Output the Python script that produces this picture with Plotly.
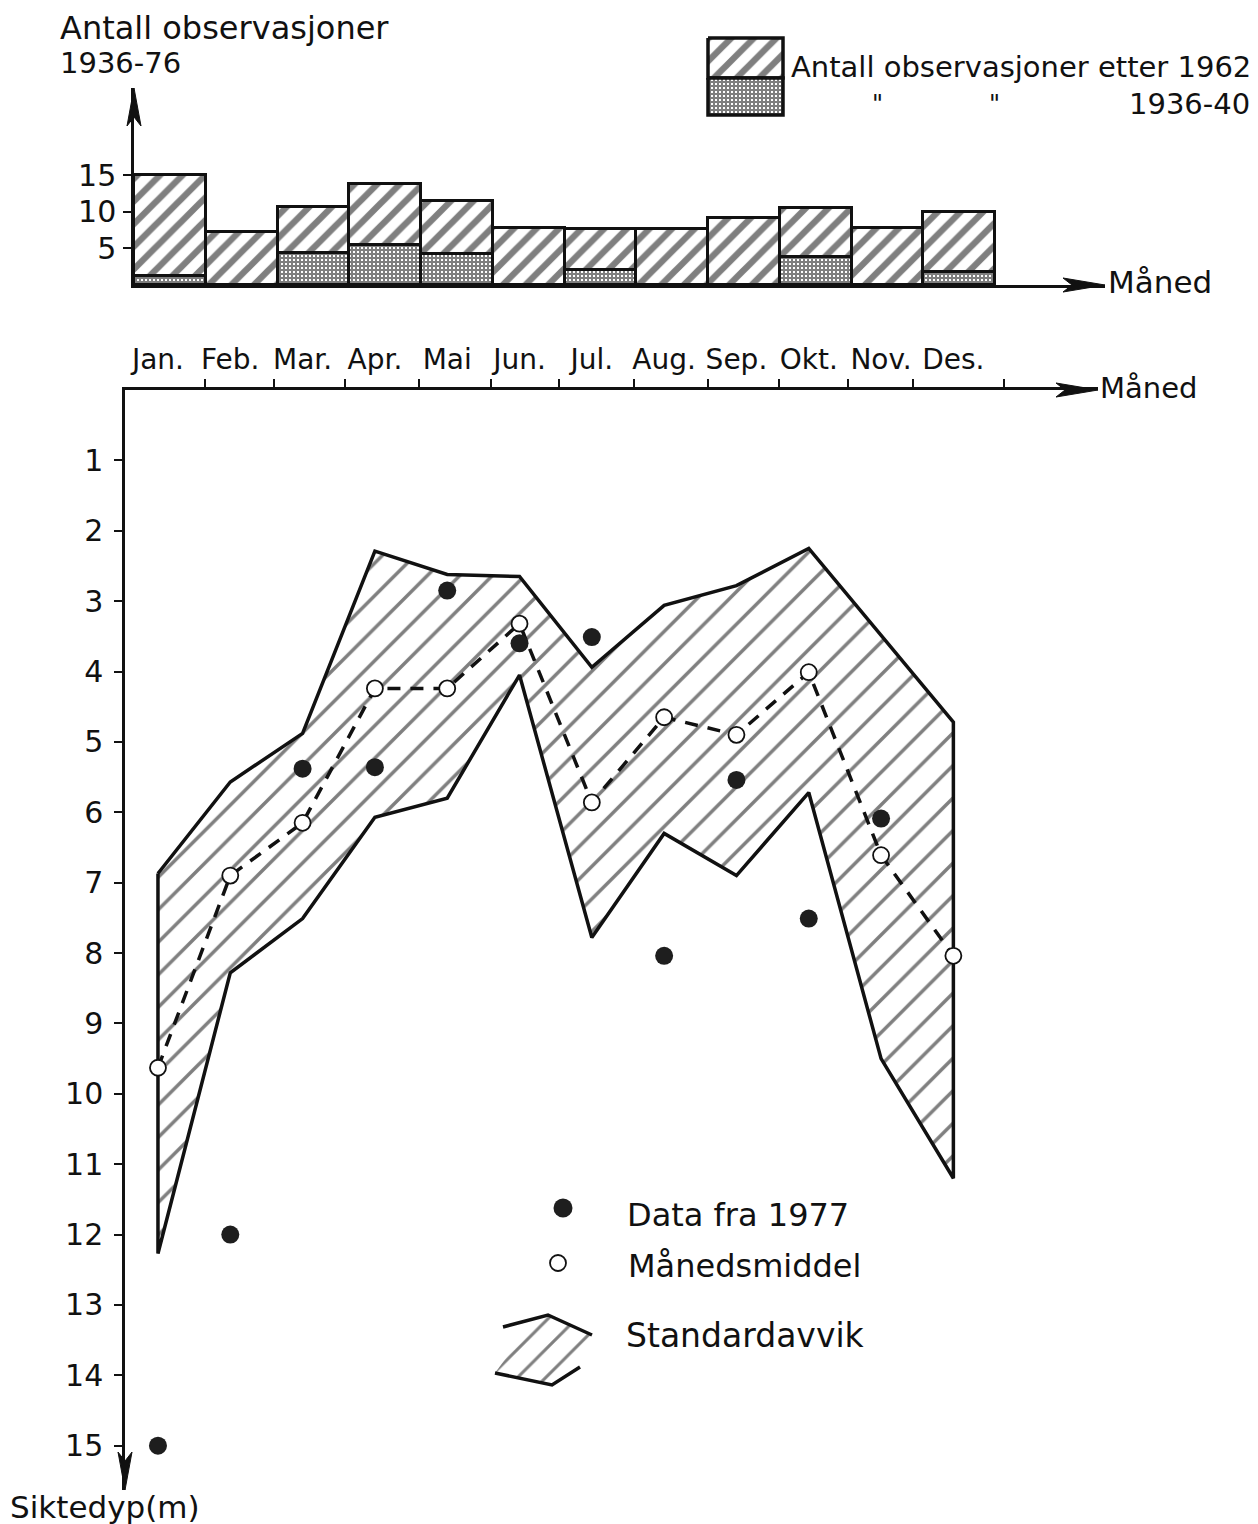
import plotly.graph_objects as go

# ---------------- data ----------------
months = ["Jan.", "Feb.", "Mar.", "Apr.", "Mai", "Jun.", "Jul.", "Aug.", "Sep.", "Okt.", "Nov.", "Des."]
month_idx = list(range(1, 13))
month_boundaries = [1.65, 2.6, 3.59, 4.61, 5.6, 6.55, 7.58, 8.6, 9.59, 10.54, 11.44, 12.7]

# top chart: number of observations (stacked)
obs_1936_40 = [1.2, 0, 4.4, 5.5, 4.2, 0, 2.0, 0, 0, 3.8, 0, 1.8]
obs_after_1962 = [13.8, 7.2, 6.2, 8.3, 7.3, 7.8, 5.6, 7.6, 9.1, 6.7, 7.8, 8.2]
obs_ticks = [5, 10, 15]

# main chart: Secchi depth (m)
data1977_x = [1, 2, 3, 4, 5, 6, 7, 8, 9, 10, 11]
data1977_y = [15.0, 12.0, 5.38, 5.36, 2.85, 3.6, 3.51, 8.04, 5.54, 7.51, 6.09]
mean_y = [9.63, 6.9, 6.15, 4.24, 4.24, 3.32, 5.86, 4.65, 4.9, 4.01, 6.61, 8.04]
std_upper_x = [1, 2, 3, 4, 5, 6, 7, 8, 9, 10, 12]
std_upper_y = [6.87, 5.57, 4.88, 2.29, 2.62, 2.65, 3.94, 3.06, 2.78, 2.25, 4.72]
std_lower_x = [1, 2, 3, 4, 5, 6, 7, 8, 9, 10, 11, 12]
std_lower_y = [12.27, 8.28, 7.51, 6.07, 5.8, 4.05, 7.78, 6.3, 6.9, 5.72, 9.5, 11.2]
depth_ticks = list(range(1, 16))

# ---------------- layout helpers ----------------
W, H = 1258, 1524
INK = "#111111"
FONT = "DejaVu Sans"

def fx(p):
    return p / W

def fy(p):
    return 1 - p / H

# main axes geometry
X_LEFT, X_RIGHT = 0.544, 14.0
Y_BOTTOM = 15.63
# top axes geometry
X2_LEFT, X2_RIGHT = 0.5, 14.03
Y2_TOP = 26.9

fig = go.Figure()

STIPPLE = dict(shape="+", size=4, solidity=0.75, fgcolor="#000000", bgcolor="white")
BAR_HATCH = dict(shape="/", size=16, solidity=0.4, fgcolor="#000000", bgcolor="white")
BAND_HATCH = dict(shape="/", size=23, solidity=0.15, fgcolor="#000000", bgcolor="white")

# ---------------- top chart (bars) ----------------
fig.add_trace(go.Bar(
    x=month_idx, y=obs_1936_40, xaxis="x2", yaxis="y2",
    marker=dict(color="white", pattern=STIPPLE, line=dict(color=INK, width=3.5)),
    showlegend=False, hoverinfo="skip"))
fig.add_trace(go.Bar(
    x=month_idx, y=obs_after_1962, xaxis="x2", yaxis="y2",
    marker=dict(color="white", pattern=BAR_HATCH, line=dict(color=INK, width=3.5)),
    showlegend=False, hoverinfo="skip"))

# ---------------- main chart ----------------
poly_x = std_upper_x + std_lower_x[::-1] + [std_upper_x[0]]
poly_y = std_upper_y + std_lower_y[::-1] + [std_upper_y[0]]
fig.add_trace(go.Scatter(
    x=poly_x, y=poly_y, mode="lines", fill="toself", fillcolor="white",
    fillpattern=BAND_HATCH,
    line=dict(color=INK, width=3.5), showlegend=False, hoverinfo="skip"))

fig.add_trace(go.Scatter(
    x=month_idx, y=mean_y, mode="lines",
    line=dict(color=INK, width=3.5, dash="13px,10px"),
    showlegend=False, hoverinfo="skip"))
fig.add_trace(go.Scatter(
    x=month_idx, y=mean_y, mode="markers",
    marker=dict(symbol="circle", size=16, color="white", line=dict(color=INK, width=1.8)),
    showlegend=False, hoverinfo="skip"))
fig.add_trace(go.Scatter(
    x=data1977_x, y=data1977_y, mode="markers",
    marker=dict(symbol="circle", size=18, color="#1e1e1e", line=dict(width=0)),
    showlegend=False, hoverinfo="skip"))

# ---------------- legend glyphs (pixel overlay axes) ----------------
fig.add_trace(go.Scatter(
    x=[708, 783, 783, 708, 708], y=[38, 38, 78, 78, 38], xaxis="x3", yaxis="y3",
    mode="lines", fill="toself", fillcolor="white", fillpattern=BAR_HATCH,
    line=dict(color=INK, width=3.5), showlegend=False, hoverinfo="skip"))
fig.add_trace(go.Scatter(
    x=[708, 783, 783, 708, 708], y=[78, 78, 115, 115, 78], xaxis="x3", yaxis="y3",
    mode="lines", fill="toself", fillcolor="white", fillpattern=STIPPLE,
    line=dict(color=INK, width=3.5), showlegend=False, hoverinfo="skip"))
fig.add_trace(go.Scatter(
    x=[563], y=[1208], xaxis="x3", yaxis="y3", mode="markers",
    marker=dict(size=19, color="#1e1e1e"), showlegend=False, hoverinfo="skip"))
fig.add_trace(go.Scatter(
    x=[558], y=[1263], xaxis="x3", yaxis="y3", mode="markers",
    marker=dict(size=16, color="white", line=dict(color=INK, width=1.8)),
    showlegend=False, hoverinfo="skip"))
fig.add_trace(go.Scatter(
    x=[495, 535, 548, 592, 560, 552, 495], y=[1373, 1318, 1315, 1335, 1383, 1385, 1373],
    xaxis="x3", yaxis="y3", mode="none", fill="toself", fillcolor="white",
    fillpattern=dict(shape="/", size=20, solidity=0.15, fgcolor="#000000", bgcolor="white"),
    showlegend=False, hoverinfo="skip"))
fig.add_trace(go.Scatter(
    x=[503, 548, 592], y=[1327, 1315, 1335], xaxis="x3", yaxis="y3", mode="lines",
    line=dict(color=INK, width=3.5), showlegend=False, hoverinfo="skip"))
fig.add_trace(go.Scatter(
    x=[495, 552, 580], y=[1373, 1385, 1367], xaxis="x3", yaxis="y3", mode="lines",
    line=dict(color=INK, width=3.5), showlegend=False, hoverinfo="skip"))

# ---------------- axes ----------------
fig.update_layout(
    width=W, height=H,
    margin=dict(l=0, r=0, t=0, b=0),
    paper_bgcolor="white", plot_bgcolor="rgba(0,0,0,0)",
    barmode="stack", bargap=0,
    font=dict(family=FONT, color=INK, size=28),
    xaxis=dict(domain=[fx(125), fx(1098)], range=[X_LEFT, X_RIGHT], anchor="y",
               side="top", showgrid=False, zeroline=False,
               showline=True, linecolor=INK, linewidth=2.5,
               tickmode="array", tickvals=month_idx, ticktext=months,
               ticks="", ticklabelstandoff=7,
               tickfont=dict(family=FONT, size=28, color=INK),
               minor=dict(tickmode="array", tickvals=month_boundaries, ticks="outside",
                          ticklen=8, tickwidth=2, tickcolor=INK, showgrid=False)),
    yaxis=dict(domain=[fy(1490), fy(390)], range=[Y_BOTTOM, 0], anchor="x",
               showgrid=False, zeroline=False,
               showline=True, linecolor=INK, linewidth=2.5,
               tickmode="array", tickvals=depth_ticks,
               ticks="outside", ticklen=8, tickwidth=2, tickcolor=INK,
               ticklabelstandoff=5,
               tickfont=dict(family=FONT, size=30, color=INK)),
    xaxis2=dict(domain=[fx(134), fx(1105)], range=[X2_LEFT, X2_RIGHT], anchor="y2",
                showgrid=False, zeroline=False, showticklabels=False, ticks="",
                showline=True, linecolor=INK, linewidth=2.5),
    yaxis2=dict(domain=[fy(285), fy(88)], range=[0, Y2_TOP], anchor="x2",
                showgrid=False, zeroline=False,
                showline=True, linecolor=INK, linewidth=2.5,
                tickmode="array", tickvals=obs_ticks,
                ticks="outside", ticklen=8, tickwidth=2, tickcolor=INK,
                ticklabelstandoff=1,
                tickfont=dict(family=FONT, size=30, color=INK)),
    xaxis3=dict(domain=[0, 1], range=[0, W], anchor="y3", visible=False, fixedrange=True),
    yaxis3=dict(domain=[0, 1], range=[H, 0], anchor="x3", visible=False, fixedrange=True),
)

# ---------------- arrowheads (paper-anchored so they are not clipped) ----------------
def arrow(px, py, path):
    fig.add_shape(type="path", xref="paper", yref="paper", xsizemode="pixel", ysizemode="pixel",
                  xanchor=fx(px), yanchor=fy(py), path=path, fillcolor=INK,
                  line=dict(color=INK, width=1), layer="above")

right_head = "M0,0 L-42,7 L-33,0 L-42,-7 Z"
arrow(1098, 390, right_head)                          # main x axis
arrow(1105, 285, right_head)                          # top x axis
arrow(134, 88, "M0,0 L-7,-38 L0,-29 L7,-38 Z")        # top y axis (up)
arrow(125, 1490, "M0,0 L-7,38 L0,29 L7,38 Z")         # main y axis (down)

# ---------------- texts ----------------
def text(s, x, y, size=28, xanchor="left", family=FONT):
    fig.add_annotation(text=s, xref="paper", yref="paper", x=fx(x), y=fy(y),
                       xanchor=xanchor, yanchor="middle", showarrow=False,
                       font=dict(family=family, size=size, color=INK))

text("Antall observasjoner", 58, 28, size=32)
text("1936-76", 58, 63, size=29)
text("Antall observasjoner etter 1962", 789, 67, size=29)
text('"', 877, 104, size=24, xanchor="center")
text('"', 995, 104, size=24, xanchor="center")
text("1936-40", 1252, 104, size=29, xanchor="right")
text("Måned", 1106, 282, size=31)
text("Måned", 1098, 388, size=29)
text("Siktedyp(m)", 8, 1507, size=31)
text("Data fra 1977", 625, 1215, size=32)
text("Månedsmiddel", 626, 1266, size=32)
text("Standardavvik", 624, 1335, size=33)

fig.write_html("out.html")
